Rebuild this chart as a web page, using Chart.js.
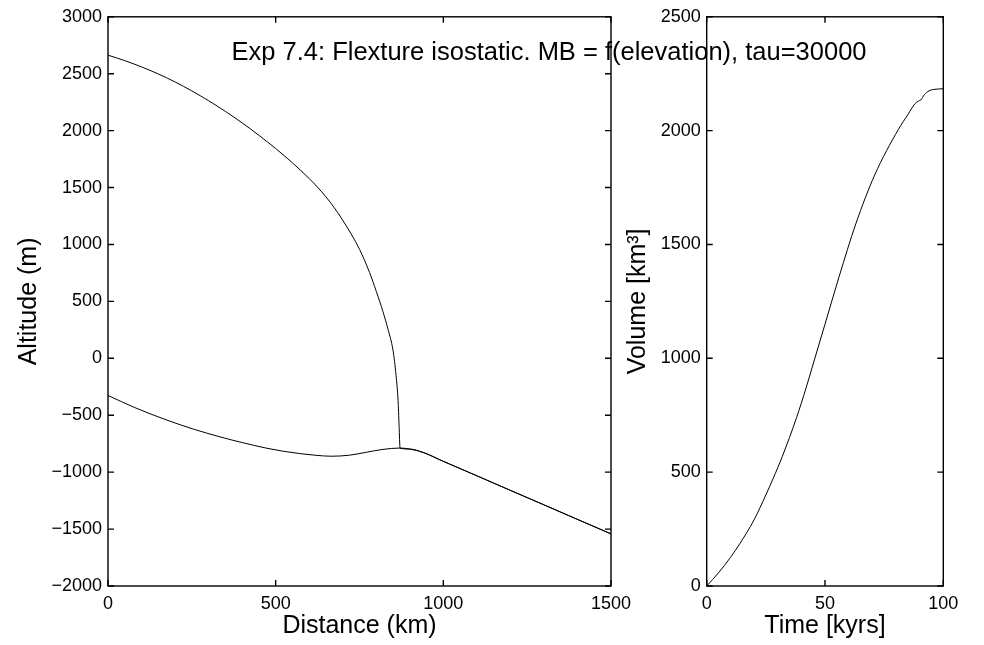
<!DOCTYPE html>
<html><head><meta charset="utf-8">
<script src="https://cdn.jsdelivr.net/npm/chart.js@4.4.1/dist/chart.umd.min.js"></script>
<style>
html,body{margin:0;padding:0;background:#fff;width:984px;height:645px;overflow:hidden}
canvas{position:absolute;left:0;top:0}
</style></head><body>
<canvas id="left" width="984" height="645"></canvas>
<canvas id="right" width="984" height="645"></canvas>
<script>
// ---- data ----
const titleText = 'Exp 7.4: Flexture isostatic. MB = f(elevation), tau=30000';

const surfaceKm  = [0, 50, 100, 150, 200, 250, 300, 350, 400, 450, 500, 550, 600, 625, 650, 675, 700, 750, 780, 800, 820, 835, 850, 859, 865, 868, 871, 900, 939, 1000, 1100, 1200, 1300, 1400, 1500];
const surfaceAlt = [2663, 2615, 2560, 2498, 2428, 2349, 2263, 2169, 2068, 1959, 1843, 1717, 1579, 1503, 1418, 1322, 1213, 958, 754, 588, 410, 255, 69, -150, -369, -588, -790, -797, -826, -905, -1032, -1160, -1287, -1415, -1542];

const bedKm  = [0, 80, 176, 255, 334, 400, 474, 520, 572, 620, 665, 720, 771, 820, 871, 900, 939, 1000, 1100, 1200, 1300, 1400, 1500];
const bedAlt = [-326, -433, -543, -622, -690, -740, -790, -815, -837, -852, -860, -851, -825, -800, -788, -797, -826, -905, -1032, -1160, -1287, -1415, -1542];

const timeKyr   = [0, 5, 10, 14, 20, 25, 28, 32, 38, 42, 45, 50, 56, 63, 71, 81, 85, 88, 89.5, 90.5, 92, 94, 96, 100];
const volumeKm3 = [0, 58, 125, 186, 290, 400, 470, 570, 740, 870, 975, 1150, 1360, 1590, 1805, 2005, 2070, 2118, 2130, 2135, 2158, 2175, 2181, 2184];

const distanceTicks = [0, 500, 1000, 1500];
const altitudeTicks = [-2000, -1500, -1000, -500, 0, 500, 1000, 1500, 2000, 2500, 3000];
const timeTicks = [0, 50, 100];
const volumeTicks = [0, 500, 1000, 1500, 2000, 2500];

// ---- helpers ----
const FONT = "'Liberation Sans', Arial, Helvetica, sans-serif";
const fmt = v => String(v).replace('-', '\u2212');
const pts = (xs, ys) => xs.map((x, i) => ({x: x, y: ys[i]}));

const matlabBox = {
  id: 'matlabBox',
  afterDatasetsDraw(chart) {
    const {ctx, chartArea: a, scales} = chart;
    const L = 6;
    ctx.save();
    ctx.strokeStyle = '#000';
    ctx.lineWidth = 1.4;
    ctx.strokeRect(a.left, a.top, a.right - a.left, a.bottom - a.top);
    ctx.beginPath();
    scales.x.ticks.forEach(t => {
      const p = scales.x.getPixelForValue(t.value);
      ctx.moveTo(p, a.bottom); ctx.lineTo(p, a.bottom - L);
      ctx.moveTo(p, a.top); ctx.lineTo(p, a.top + L);
    });
    scales.y.ticks.forEach(t => {
      const p = scales.y.getPixelForValue(t.value);
      ctx.moveTo(a.left, p); ctx.lineTo(a.left + L, p);
      ctx.moveTo(a.right, p); ctx.lineTo(a.right - L, p);
    });
    ctx.stroke();
    ctx.restore();
  }
};

const figTitle = {
  id: 'figTitle',
  afterDraw(chart) {
    const ctx = chart.ctx;
    ctx.save();
    ctx.fillStyle = '#000';
    ctx.font = '25.5px ' + FONT;
    ctx.textAlign = 'center';
    ctx.textBaseline = 'alphabetic';
    ctx.fillText(titleText, 549, 60);
    ctx.restore();
  }
};

function axisX(min, max, tickVals, label) {
  return {
    type: 'linear', min: min, max: max,
    afterBuildTicks: s => { s.ticks = tickVals.map(v => ({value: v})); },
    afterFit: s => { s.height = 59; },
    grid: {display: false, drawTicks: false},
    border: {display: false},
    ticks: {padding: 7.7, color: '#000', font: {family: FONT, size: 18}, maxRotation: 0, autoSkip: false, callback: v => fmt(v)},
    title: {display: true, text: label, color: '#000', font: {family: FONT, size: 25}, padding: {top: 0, bottom: 3.7}}
  };
}
function axisY(min, max, tickVals, label, width, titlePad) {
  return {
    type: 'linear', min: min, max: max,
    afterBuildTicks: s => { s.ticks = tickVals.map(v => ({value: v})); },
    afterFit: s => { s.width = width; },
    grid: {display: false, drawTicks: false},
    border: {display: false},
    ticks: {padding: 6, color: '#000', font: {family: FONT, size: 18}, autoSkip: false, callback: v => fmt(v)},
    title: {display: true, text: label, color: '#000', font: {family: FONT, size: 25}, padding: {top: titlePad, bottom: 0}}
  };
}
const lineDs = (data) => ({data: data, borderColor: '#000', borderWidth: 1, pointRadius: 0, fill: false, cubicInterpolationMode: 'monotone'});

new Chart(document.getElementById('left'), {
  type: 'line',
  data: {datasets: [lineDs(pts(surfaceKm, surfaceAlt)), lineDs(pts(bedKm, bedAlt))]},
  options: {
    responsive: false, animation: false, devicePixelRatio: 1,
    layout: {padding: {left: 0, top: 15.5, right: 373, bottom: 0}},
    plugins: {legend: {display: false}, tooltip: {enabled: false}},
    scales: {
      x: axisX(0, 1500, distanceTicks, 'Distance (km)'),
      y: axisY(-2000, 3000, altitudeTicks, 'Altitude (m)', 108, 14)
    }
  },
  plugins: [matlabBox]
});

new Chart(document.getElementById('right'), {
  type: 'line',
  data: {datasets: [lineDs(pts(timeKyr, volumeKm3))]},
  options: {
    responsive: false, animation: false, devicePixelRatio: 1,
    layout: {padding: {left: 616.7, top: 15.5, right: 40.7, bottom: 0}},
    plugins: {legend: {display: false}, tooltip: {enabled: false}},
    scales: {
      x: axisX(0, 100, timeTicks, 'Time [kyrs]'),
      y: axisY(0, 2500, volumeTicks, 'Volume [km\u00B3]', 90, 6.6)
    }
  },
  plugins: [matlabBox, figTitle]
});
</script>
</body></html>
